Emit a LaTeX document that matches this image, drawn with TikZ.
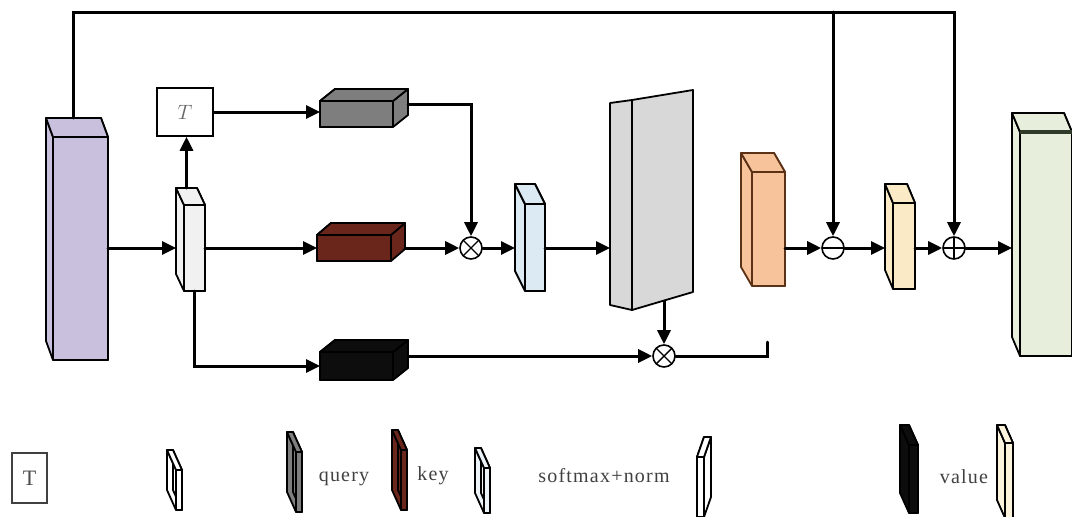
\documentclass[tikz,border=0pt]{standalone}
\usepackage{fontspec}
\newfontfamily\legendfont[LetterSpace=6]{Liberation Serif}
\usetikzlibrary{arrows.meta,calc,fit}
\definecolor{FigurePurple}{HTML}{C9C0DE}
\definecolor{FigurePale}{HTML}{F1F1F1}
\definecolor{FigureGray}{HTML}{7E7E7E}
\definecolor{FigureKey}{HTML}{6B261C}
\definecolor{FigureValue}{HTML}{0D0D0D}
\definecolor{FigureIce}{HTML}{DCEAF3}
\definecolor{FigureMap}{HTML}{D8D8D8}
\definecolor{FigurePeach}{HTML}{F6C39B}
\definecolor{FigureBrown}{HTML}{5B3216}
\definecolor{FigureCream}{HTML}{FAEBC6}
\definecolor{FigureSage}{HTML}{E7EEDC}
\definecolor{FigureMoss}{HTML}{2F3A28}
% front face as a node, back faces pushed by the depth offset
\newcommand{\blockcube}[5]{%
  \node[inner sep=0pt, outer sep=0pt, fit={#3 #4}] (#1) {};
  \path (#1.north west) ++#5 coordinate (#1-bnw) (#1.north east) ++#5 coordinate (#1-bne)
        (#1.south west) ++#5 coordinate (#1-bsw) (#1.south east) ++#5 coordinate (#1-bse)
        (#1.north) ++#5 coordinate (#1-bn);
  \coordinate (#1-bw) at (#1-bsw |- #1.west); \coordinate (#1-be) at (#1-bse |- #1.east);
  \filldraw[face, #2] (#1.north west) -- (#1-bnw) -- (#1-bsw) -- (#1.south west) -- cycle;
  \filldraw[face, #2] (#1.north east) -- (#1-bne) -- (#1-bse) -- (#1.south east) -- cycle;
  \filldraw[face, #2] (#1.north west) -- (#1-bnw) -- (#1-bne) -- (#1.north east) -- cycle;
  \filldraw[face, #2] (#1.north west) rectangle (#1.south east);}
\tikzset{
  face/.style={draw=black, line width=1.8pt, line join=round},
  flow/.style={line width=3pt, -{Triangle[length=14pt,width=13pt]}},
  link/.style={line width=3pt},
  opnode/.style={circle, draw, line width=1.6pt, minimum size=22pt, inner sep=0pt, fill=white},
  optimes/.style={opnode, path picture={\draw[line width=1.4pt] (path picture bounding box.north west) -- (path picture bounding box.south east) (path picture bounding box.north east) -- (path picture bounding box.south west);}},
  opminus/.style={opnode, path picture={\draw[line width=1.4pt] (path picture bounding box.west) -- (path picture bounding box.east);}},
  opplus/.style={opnode, path picture={\draw[line width=1.4pt] (path picture bounding box.west) -- (path picture bounding box.east) (path picture bounding box.north) -- (path picture bounding box.south);}},
  legend/.style={text=black!75, font=\legendfont\fontsize{20}{20}\selectfont, inner sep=0pt}
}
\begin{document}
\begin{tikzpicture}[x=1pt, y=-1pt, line cap=round]
  \useasboundingbox (0,0) rectangle (1072,517); \clip (0,0) rectangle (1072,517);
  % blocks
  \blockcube{input}{fill=FigurePurple}{(53,137)}{(108,360)}{(-7,-19)}
  \blockcube{embed}{fill=FigurePale}{(184,205)}{(205,291)}{(-8,-17)}
  \blockcube{query}{fill=FigureGray}{(320,101)}{(393,127)}{(15,-12)}
  \blockcube{key}{fill=FigureKey}{(317,235)}{(391,261)}{(14,-12)}
  \blockcube{value}{fill=FigureValue}{(320,352)}{(393,380)}{(15,-12)}
  \blockcube{norm}{fill=FigureIce}{(525,204)}{(545,291)}{(-10,-20)}
  \blockcube{recon}{fill=FigurePeach, draw=FigureBrown}{(752,172)}{(785,286)}{(-11,-19)}
  \blockcube{resid}{fill=FigureCream}{(893,203)}{(915,289)}{(-8,-19)}
  \blockcube{output}{fill=FigureSage}{(1020,132)}{(1072,356)}{(-8,-19)}
  \draw[line width=3.5pt, FigureMoss, line cap=butt] (output.north west) -- (output.north east);
  \node[inner sep=0pt, outer sep=0pt, fit={(610,90) (693,310)}] (attn) {};
  \filldraw[face, fill=FigureMap] (610,103) -- (632,100) -- (632,310) -- (610,305) -- cycle;
  \filldraw[face, fill=FigureMap] (632,100) -- (693,90) -- (693,292) -- (632,310) -- cycle;
  \coordinate (attnout) at (664,301);
  \node[draw, line width=1.6pt, fill=white, minimum width=56pt, minimum height=48pt] (trans) at (185,112) {\fontsize{22}{22}\selectfont\color{black!60}$T$};
  \node[optimes] (mulA) at (471,248) {}; \node[optimes] (mulB) at (664,356) {};
  \node[opminus] (sub) at (833,248) {}; \node[opplus] (add) at (954,248) {};
  % connectors
  \draw[flow] (input.east |- embed.west) -- (embed-bw);
  \draw[flow] (embed-bn) -- (embed-bn |- trans.south);
  \draw[flow] (trans.east) -- (trans.east -| query.west);
  \draw[flow] (embed.east) -- (embed.east -| key.west);
  \draw[flow] (embed.south) |- (value.west);
  \draw[flow] ([yshift=10pt]query-be) -| (mulA.north);
  \draw[flow] (key-be |- mulA) -- (mulA.west);
  \draw[flow] (mulA.east) -- (norm-bw |- mulA);
  \draw[flow] (norm.east |- mulA) -- (attn.west |- mulA);
  \draw[flow] (attnout) -- (mulB.north);
  \draw[flow] ([yshift=10pt]value-be) -- (mulB.west);
  \coordinate (stub) at (767,342); \draw[link] (mulB.east) -| (stub);
  \draw[flow] (recon.east |- sub) -- (sub.west);
  \draw[flow] (sub.east) -- (resid-bw |- sub);
  \draw[flow] (resid.east |- add) -- (add.west);
  \draw[flow] (add.east) -- (output-bw |- add);
  \coordinate (rail) at (0,12);
  \draw[flow] (input-bn) |- (rail -| add) -- (add.north);
  \draw[flow] (rail -| sub) -- (sub.north);
  % legend
  \node[draw=black!75, line width=1.6pt, minimum width=35pt, minimum height=50pt] (legT) at (29.5,478) {\legendfont\fontsize{22}{22}\selectfont\color{black!70}T};
  \blockcube{legE}{fill=white}{(176,470)}{(182,510)}{(-9,-20)}
  \blockcube{legQ}{fill=FigureGray}{(296,452)}{(302,512)}{(-9,-20)}
  \node[legend] (legQtext) at (344,479) {query};
  \blockcube{legK}{fill=FigureKey}{(401,450)}{(407,510)}{(-9,-20)}
  \node[legend] (legKtext) at (433,476) {key};
  \blockcube{legN}{fill=FigureIce!50}{(484,468)}{(490,513)}{(-9,-20)}
  \node[legend] (legNtext) at (604,476) {softmax+norm};
  \blockcube{legA}{fill=white}{(697,457)}{(704,517)}{(7,-20)}
  \blockcube{legV}{fill=FigureValue}{(909,445)}{(918,513)}{(-9,-20)}
  \node[legend] (legVtext) at (964,477) {value};
  \blockcube{legR}{fill=FigureCream!60}{(1005,443)}{(1013,518)}{(-8,-18)}
\end{tikzpicture}
\end{document}
